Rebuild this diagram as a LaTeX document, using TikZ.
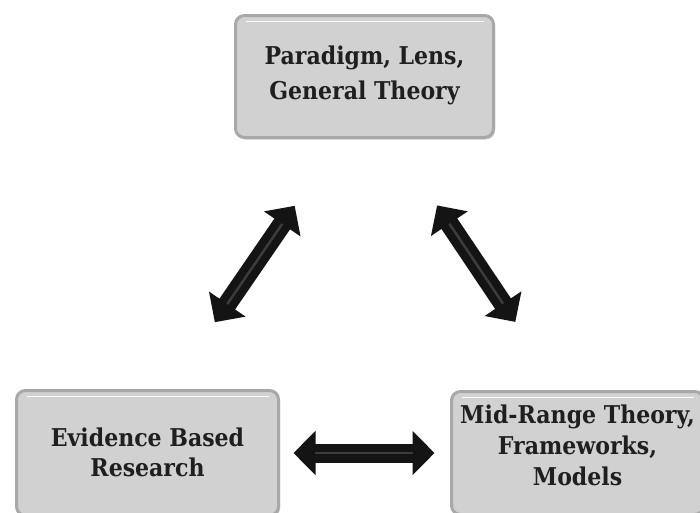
\documentclass[tikz,border=0pt]{standalone}
\usepackage{fontspec}
\newfontfamily\boxfont{DejaVu Serif Condensed}
\usetikzlibrary{arrows.meta,shadows}
\definecolor{boxfill}{HTML}{D1D1D1}
\definecolor{boxedge}{HTML}{A8A8A8}
\definecolor{arrowshine}{HTML}{3C3C3C}
\tikzset{
  boxshape/.style={rectangle, rounded corners=9pt, fill=boxfill, draw=boxedge, line width=3pt,
    drop shadow={opacity=0.35, shadow xshift=1.5pt, shadow yshift=-2pt},
    path picture={\draw[white, line width=1.5pt]
      ([xshift=10pt,yshift=-6pt]path picture bounding box.north west) --
      ([xshift=-10pt,yshift=-6pt]path picture bounding box.north east);}},
  boxtext/.style={align=center, text=black!88, font=\boxfont\bfseries\fontsize{24.5}{35}\selectfont},
  fatarrow/.style={line width=19pt, black!92, {Triangle[length=22pt,width=43pt]}-{Triangle[length=22pt,width=43pt]}},
  shine/.style={line width=2.5pt, arrowshine}
}
\begin{document}
\begin{tikzpicture}[x=1pt,y=-1pt]
\useasboundingbox (0,0) rectangle (700,512);
\fill[white] (0,0) rectangle (700,512);
% boxes
\node[boxshape, minimum width=258pt, minimum height=122pt] (topbox) at (364.5,76.5) {};
\node[boxshape, minimum width=262pt, minimum height=125pt] (leftbox) at (147.5,453) {};
\node[boxshape, minimum width=252pt, minimum height=123pt] (rightbox) at (577.5,453) {};
% texts
\node[boxtext] (toptext) at (topbox) [yshift=1pt] {Paradigm, Lens,\\General Theory};
\node[boxtext, font=\boxfont\bfseries\fontsize{24.5}{30}\selectfont] (lefttext) at (leftbox) [yshift=1pt] {Evidence Based\\Research};
\node[boxtext, font=\boxfont\bfseries\fontsize{24.5}{31}\selectfont] (righttext) at (rightbox) [yshift=8pt] {Mid-Range Theory,\\Frameworks,\\Models};
% arrows
\draw[fatarrow, shorten <=81pt, shorten >=81pt] ([xshift=21.5pt]leftbox.north) -- ([xshift=-24pt]topbox.south);
\draw[shine, shorten <=103pt, shorten >=103pt] ([xshift=21.5pt]leftbox.north) -- ([xshift=-24pt]topbox.south);
\draw[fatarrow, shorten <=80pt, shorten >=82pt] ([xshift=28pt]topbox.south) -- ([xshift=-16.5pt]rightbox.north);
\draw[shine, shorten <=102pt, shorten >=104pt] ([xshift=28pt]topbox.south) -- ([xshift=-16.5pt]rightbox.north);
\draw[fatarrow, shorten <=13.5pt, shorten >=15.5pt] (leftbox.east) -- (rightbox.west);
\draw[shine, shorten <=35pt, shorten >=37pt] (leftbox.east) -- (rightbox.west);
\end{tikzpicture}
\end{document}
